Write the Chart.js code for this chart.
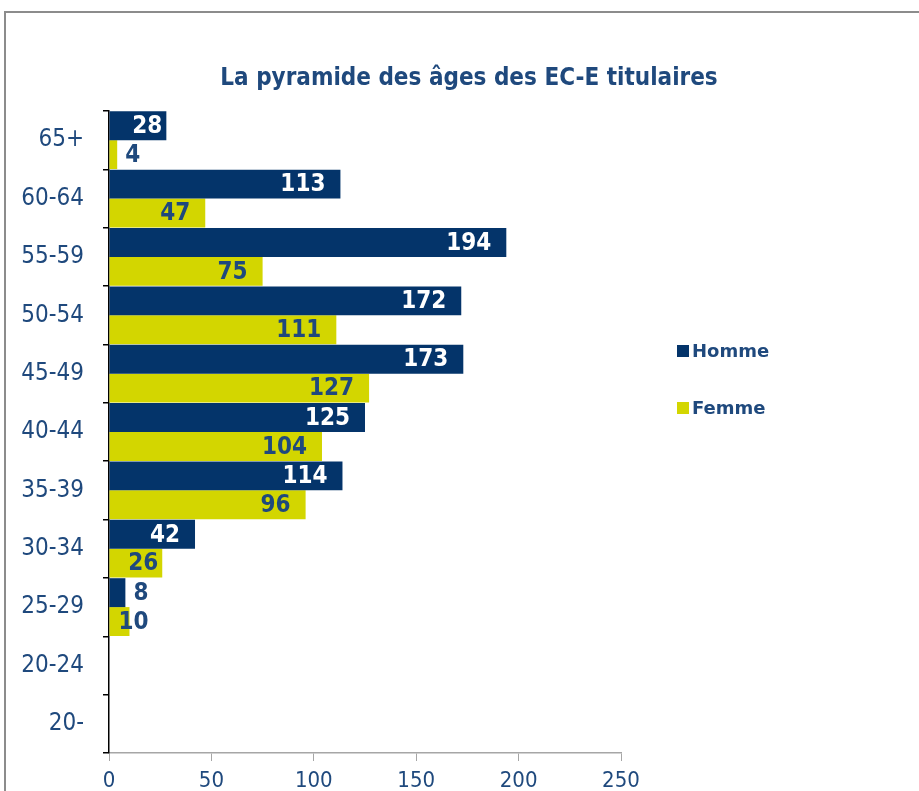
<!DOCTYPE html>
<html lang="fr">
<head>
<meta charset="utf-8">
<title>La pyramide des âges des EC-E titulaires</title>
<script src="https://cdn.jsdelivr.net/npm/chart.js@4.4.1/dist/chart.umd.min.js"></script>
<style>
  html, body { margin: 0; padding: 0; background: #fff; }
  #wrap { position: relative; width: 919px; height: 791px; overflow: hidden; }
  #frame { position: absolute; left: 4px; top: 11px; right: -4px; bottom: -4px;
           border-left: 2px solid #8c8c8c; border-top: 2px solid #8c8c8c; }
  canvas { position: absolute; left: 0; top: 0; }
</style>
</head>
<body>
<div id="wrap">
  <div id="frame"></div>
  <canvas id="pyramidChart" width="919" height="791"></canvas>
</div>
<script>
// Data
const TITLE = 'La pyramide des âges des EC-E titulaires';
const AGE_GROUPS = ['65+', '60-64', '55-59', '50-54', '45-49', '40-44', '35-39', '30-34', '25-29', '20-24', '20-'];
const HOMME = [28, 113, 194, 172, 173, 125, 114, 42, 8, null, null];
const FEMME = [4, 47, 75, 111, 127, 104, 96, 26, 10, null, null];
const X_TICKS = [0, 50, 100, 150, 200, 250];

const NAVY = '#04346a';
const YELLOW = '#d3d600';
const TEXT_BLUE = '#1f497d';
const FONT = "'DejaVu Sans Condensed', 'DejaVu Sans', sans-serif";

// Value labels at the end of each bar (inside when they fit)
const barLabels = {
  id: 'barLabels',
  afterDatasetsDraw(chart) {
    const ctx = chart.ctx;
    ctx.save();
    ctx.font = `bold 24px ${FONT}`;
    ctx.textBaseline = 'middle';
    chart.data.datasets.forEach((ds, i) => {
      const meta = chart.getDatasetMeta(i);
      meta.data.forEach((bar, j) => {
        const v = ds.data[j];
        if (v == null) return;
        const text = String(v);
        const tw = ctx.measureText(text).width;
        const { x, base, y } = bar.getProps(['x', 'base', 'y'], true);
        const w = x - base;
        if (w >= tw + 4) {
          // inside end
          const pad = w - tw >= 45 ? 15 : 4;
          ctx.textAlign = 'right';
          ctx.fillStyle = ds.insideLabelColor;
          ctx.fillText(text, x - pad, y + 1);
        } else if (w >= 18) {
          // straddles the bar end
          ctx.textAlign = 'center';
          ctx.fillStyle = TEXT_BLUE;
          ctx.fillText(text, x + 4, y + 1);
        } else {
          // outside end
          ctx.textAlign = 'left';
          ctx.fillStyle = TEXT_BLUE;
          ctx.fillText(text, x + 8, y + 1);
        }
      });
    });
    ctx.restore();
  }
};

// Title and legend drawn as in the spreadsheet chart
const titleAndLegend = {
  id: 'titleAndLegend',
  afterDraw(chart) {
    const ctx = chart.ctx;
    ctx.save();
    ctx.fillStyle = TEXT_BLUE;
    ctx.font = `bold 24px ${FONT}`;
    ctx.textAlign = 'center';
    ctx.textBaseline = 'middle';
    ctx.fillText(TITLE, 469, 79);

    const legendX = chart.chartArea.right + 56;
    const legendY = 351;
    ctx.font = `bold 18px 'DejaVu Sans', sans-serif`;
    ctx.textAlign = 'left';
    chart.data.datasets.forEach((ds, i) => {
      const cy = legendY + i * 57;
      ctx.fillStyle = ds.backgroundColor;
      ctx.fillRect(legendX, cy - 6, 12, 12);
      ctx.fillStyle = TEXT_BLUE;
      ctx.fillText(ds.label, legendX + 15, cy + 1);
    });
    ctx.restore();
  }
};

new Chart(document.getElementById('pyramidChart'), {
  type: 'bar',
  data: {
    labels: AGE_GROUPS,
    datasets: [
      { label: 'Homme', data: HOMME, backgroundColor: NAVY, insideLabelColor: '#ffffff' },
      { label: 'Femme', data: FEMME, backgroundColor: YELLOW, insideLabelColor: TEXT_BLUE }
    ]
  },
  options: {
    indexAxis: 'y',
    responsive: false,
    devicePixelRatio: 1,
    animation: false,
    layout: { padding: { top: 111, right: 298, bottom: 0, left: 0 } },
    datasets: {
      bar: { categoryPercentage: 0.99, barPercentage: 1.0 }
    },
    plugins: {
      legend: { display: false },
      title: { display: false },
      tooltip: { enabled: false }
    },
    scales: {
      x: {
        min: X_TICKS[0],
        max: X_TICKS[X_TICKS.length - 1],
        afterBuildTicks: scale => { scale.ticks = X_TICKS.map(v => ({ value: v })); },
        afterFit: scale => { scale.height = 38; },
        grid: { drawOnChartArea: false, drawTicks: true, tickLength: 8, color: '#a6a6a6' },
        border: { display: true, color: '#a6a6a6', width: 1.5 },
        ticks: { color: TEXT_BLUE, font: { family: FONT, size: 22 }, padding: 7 }
      },
      y: {
        afterFit: scale => { scale.width = 109; },
        grid: { drawOnChartArea: false, drawTicks: true, tickLength: 6, offset: true, color: '#000000', lineWidth: 1.5 },
        border: { display: true, color: '#000000', width: 1.5 },
        ticks: { color: TEXT_BLUE, font: { family: FONT, size: 24 }, padding: 19, autoSkip: false }
      }
    }
  },
  plugins: [barLabels, titleAndLegend]
});
</script>
</body>
</html>
